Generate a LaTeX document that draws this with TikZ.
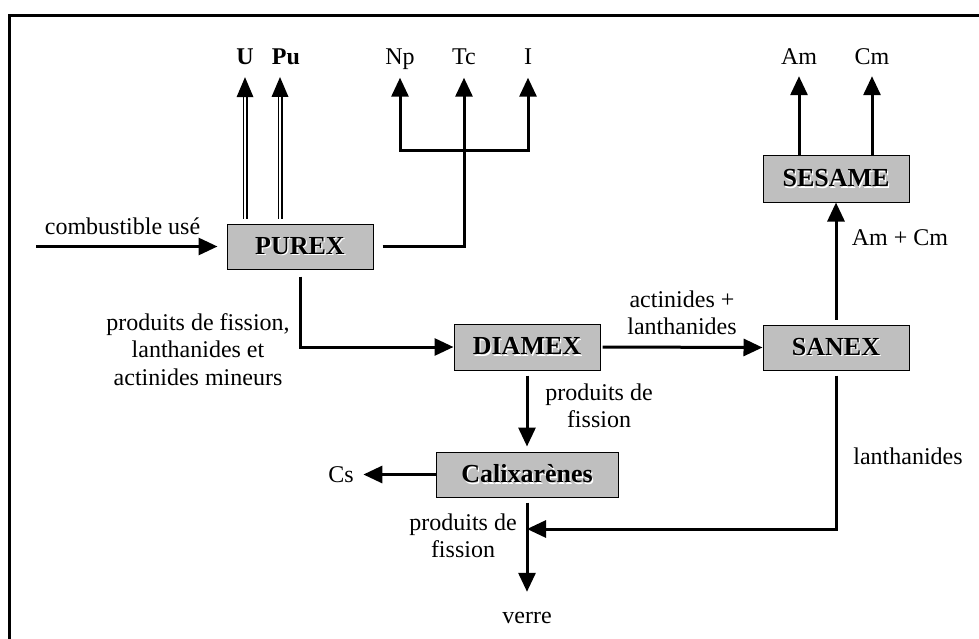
\documentclass[tikz,border=0pt]{standalone}
\usepackage{fontspec}
\setmainfont{Liberation Serif}
\usetikzlibrary{arrows.meta}
\newcommand\shtxt[1]{\makebox[0pt][l]{\hspace{1.3pt}\raisebox{-1.3pt}{\color{white}#1}}#1}
\tikzset{
  box/.style={draw=black, line width=1pt, fill=black!25, inner sep=0pt,
    minimum width=146pt, minimum height=45pt,
    font=\fontsize{26}{30}\selectfont\bfseries},
  lbl/.style={inner sep=0pt, text height=16pt, text depth=5pt,
    font=\fontsize{24}{27.6}\selectfont},
  lblm/.style={inner sep=0pt, align=center,
    font=\fontsize{24}{27.6}\selectfont},
  arr/.style={line width=3pt, -{Triangle[length=19pt,width=17pt]}},
  dbl/.style={double, line width=1.2pt, double distance=2.6pt},
}
\begin{document}
\begin{tikzpicture}[x=1pt, y=-1pt]
\useasboundingbox (0,0) rectangle (979,639);
\clip (0,0) rectangle (979,639);
\draw[line width=3pt] (9.2,16) rectangle (1000,700);

% process boxes
\node[box] (purex) at (300,246.5) {\shtxt{PUREX}};
\node[box, minimum height=46pt] (diamex) at (527,347) {\shtxt{DIAMEX}};
\node[box] (sanex) at (836,347.5) {\shtxt{SANEX}};
\node[box, minimum height=46pt] (sesame) at (836,179) {\shtxt{SESAME}};
\node[box, minimum width=182pt] (calix) at (527,474.5) {\shtxt{Calixarènes}};

% labels
\node[lbl, font=\fontsize{24}{27.6}\selectfont\bfseries] (u) at (245,59) {U};
\node[lbl, font=\fontsize{24}{27.6}\selectfont\bfseries] (pu) at (286,59) {Pu};
\node[lbl] (np) at (400,59) {Np};
\node[lbl] (tc) at (464,59) {Tc};
\node[lbl] (i) at (528,59) {I};
\node[lbl] (am) at (799,59.5) {Am};
\node[lbl] (cm) at (872,59.5) {Cm};
\node[lbl] (comb) at (122.5,228.5) {combustible usé};
\node[lblm] (pfla) at (198,349.5) {produits de fission,\\lanthanides et\\actinides mineurs};
\node[lblm] (acla) at (682,312.7) {actinides +\\lanthanides};
\node[lbl] (amcm) at (900,239.5) {Am + Cm};
\node[lblm] (pf1) at (599,405.7) {produits de\\fission};
\node[lblm] (pf2) at (463,535.7) {produits de\\fission};
\node[lbl] (lan) at (908,458.5) {lanthanides};
\node[lbl] (cs) at (341,476.5) {Cs};
\node[lbl] (verre) at (527,617.5) {verre};

% helper coordinates
\coordinate (cin) at (36,246.5);
\coordinate (j) at (464,151);
\coordinate (mix) at (527,529);

% connectors
\draw[arr, shorten >=9pt] (cin) -- (purex.west);

\draw[dbl, shorten <=5pt, shorten >=27.5pt] ([xshift=-55pt]purex.north) -- (u.south);
\fill ([shift={(-8.5pt,-27.5pt)}]u.south) -- ([shift={(8.5pt,-27.5pt)}]u.south) -- ([yshift=-7.5pt]u.south) -- cycle;
\draw[dbl, shorten <=5pt] ([xshift=-20pt]purex.north) -- (280,97);
\fill (271.5,97) -- (288.5,97) -- (280,77) -- cycle;

\draw[arr, shorten <=9pt, shorten >=8pt] (purex.east) -| (tc.south);
\draw[arr, shorten >=8pt] (j) -| (np.south);
\draw[arr, shorten >=8pt] (j) -| (i.south);

\draw[arr, shorten <=7pt] (purex.south) |- (diamex.west);
\draw[arr, shorten <=2pt] (diamex.east) -- (sanex.west);
\draw[arr, shorten <=5pt] (sanex.north) -- (sesame.south);
\draw[arr, shorten >=6pt] ([xshift=-37pt]sesame.north) -- (am.south);
\draw[arr, shorten >=6pt] ([xshift=36pt]sesame.north) -- (cm.south);
\draw[arr, shorten <=5pt, shorten >=5pt] (diamex.south) -- (calix.north);
\draw[arr, shorten >=9.5pt] (calix.west) -- (calix.west -| cs.east);
\draw[arr, shorten <=5pt, shorten >=15pt] (calix.south) -- (verre.north);
\draw[arr, shorten <=5pt] (sanex.south) |- (mix);
\end{tikzpicture}
\end{document}
